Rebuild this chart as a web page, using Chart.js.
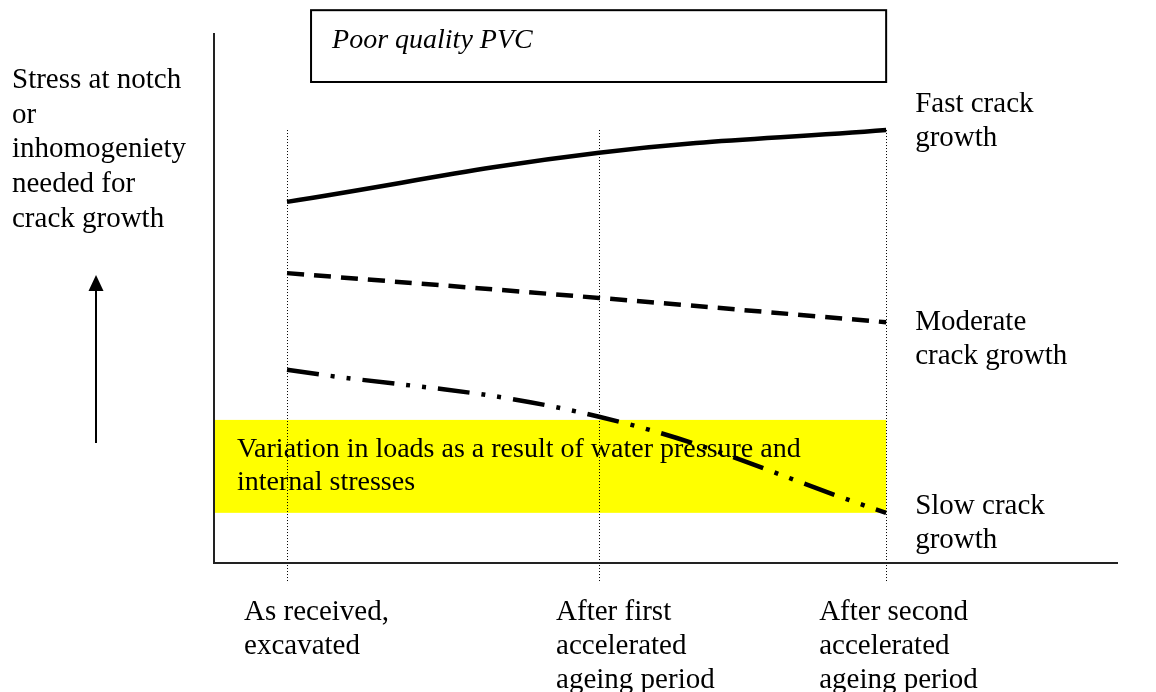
<!DOCTYPE html>
<html>
<head>
<meta charset="utf-8">
<script src="https://cdn.jsdelivr.net/npm/chart.js@4"></script>
<style>
    html, body { margin: 0; padding: 0; background: #fff; }
    #wrap { width: 1156px; height: 692px; }
</style>
</head>
<body>
<div id="wrap"><canvas id="myChart" width="1156" height="692"></canvas></div>
<script>
// stages along the x axis (uneven spacing)
const stageX = [0, 1, 1.92];
const stageLabels = [
    ["As received,", "excavated"],
    ["After first", "accelerated", "ageing period"],
    ["After second", "accelerated", "ageing period"]
];

// stress needed for crack growth (relative units, 0-100)
const fastCrack = [68.4, 77.7, 82.0];
const moderateCrack = [54.9, 50.2, 45.6];
const slowCrack = [36.6, 27.7, 9.5];

// band of loads from water pressure and internal stresses
const loadBand = [9.5, 27.1];

const seriesLabels = [
    ["Fast crack", "growth"],
    ["Moderate", "crack growth"],
    ["Slow crack", "growth"]
];
const yTitle = ["Stress at notch", "or", "inhomogeniety", "needed for", "crack growth"];
const bandText = ["Variation in loads as a result of water pressure and", "internal stresses"];
const boxTitle = "Poor quality PVC";

const FONT = "29px 'Liberation Serif', 'Times New Roman', serif";
const FONT_BAND = "28px 'Liberation Serif', 'Times New Roman', serif";
const FONT_I = "italic 28px 'Liberation Serif', 'Times New Roman', serif";

function toPoints(values)
{
    let pts = [];
    for (let i = 0; i < values.length; i++)
    {
        pts.push({x: stageX[i], y: values[i]});
    }
    return pts;
}

function drawLines(ctx, lines, x, y, step)
{
    for (let i = 0; i < lines.length; i++)
    {
        ctx.fillText(lines[i], x, y + i * step);
    }
}

const sketchPlugin = {
    id: "sketch",
    beforeDatasetsDraw: function (chart)
    {
        let ctx = chart.ctx;
        let xs = chart.scales.x;
        let ys = chart.scales.y;
        let area = chart.chartArea;
        ctx.save();

        // yellow load band
        let bTop = ys.getPixelForValue(loadBand[1]);
        let bBot = ys.getPixelForValue(loadBand[0]);
        let bRight = xs.getPixelForValue(stageX[2]);
        ctx.fillStyle = "#ffff00";
        ctx.fillRect(area.left + 1, bTop, bRight - area.left - 1, bBot - bTop);

        // dotted stage lines
        ctx.strokeStyle = "#000";
        ctx.lineWidth = 1;
        ctx.setLineDash([1, 2]);
        for (let i = 0; i < stageX.length; i++)
        {
            let px = Math.round(xs.getPixelForValue(stageX[i])) + 0.5;
            ctx.beginPath();
            ctx.moveTo(px, ys.getPixelForValue(82.0));
            ctx.lineTo(px, ys.getPixelForValue(-3.8));
            ctx.stroke();
        }
        ctx.setLineDash([]);

        // band text
        ctx.fillStyle = "#000";
        ctx.font = FONT_BAND;
        ctx.textBaseline = "alphabetic";
        ctx.textAlign = "left";
        drawLines(ctx, bandText, area.left + 23, bTop + 37, 33);

        ctx.restore();
    },
    afterDraw: function (chart)
    {
        let ctx = chart.ctx;
        let xs = chart.scales.x;
        let ys = chart.scales.y;
        let area = chart.chartArea;
        ctx.save();

        // axes
        ctx.strokeStyle = "#222";
        ctx.lineWidth = 2;
        ctx.beginPath();
        ctx.moveTo(area.left, area.top - 2);
        ctx.lineTo(area.left, area.bottom);
        ctx.lineTo(area.right, area.bottom);
        ctx.stroke();

        // title box
        let bx0 = xs.getPixelForValue(0.077);
        let bx1 = xs.getPixelForValue(stageX[2]);
        let by0 = ys.getPixelForValue(104.7);
        let by1 = ys.getPixelForValue(91.1);
        ctx.fillStyle = "#fff";
        ctx.fillRect(bx0, by0, bx1 - bx0, by1 - by0);
        ctx.lineWidth = 2;
        ctx.strokeStyle = "#000";
        ctx.strokeRect(bx0, by0, bx1 - bx0, by1 - by0);
        ctx.fillStyle = "#000";
        ctx.font = FONT_I;
        ctx.textBaseline = "alphabetic";
        ctx.textAlign = "left";
        ctx.fillText(boxTitle, bx0 + 21, by0 + 38);

        // y axis description and arrow
        ctx.font = FONT;
        drawLines(ctx, yTitle, 12, 88, 34.7);
        ctx.lineWidth = 2;
        ctx.beginPath();
        ctx.moveTo(96, 443);
        ctx.lineTo(96, 288);
        ctx.stroke();
        ctx.beginPath();
        ctx.moveTo(96, 275);
        ctx.lineTo(103.5, 291);
        ctx.lineTo(88.5, 291);
        ctx.closePath();
        ctx.fill();

        // series labels on the right
        let lx = xs.getPixelForValue(stageX[2]) + 29;
        let labelY = [112, 330, 514];
        for (let i = 0; i < seriesLabels.length; i++)
        {
            drawLines(ctx, seriesLabels[i], lx, labelY[i], 33.5);
        }

        // stage labels below the axis
        let offs = [-43, -43, -67];
        for (let i = 0; i < stageLabels.length; i++)
        {
            drawLines(ctx, stageLabels[i], xs.getPixelForValue(stageX[i]) + offs[i], 620, 34);
        }
        ctx.restore();
    }
};

let chart = new Chart(document.getElementById("myChart"), {
    type: "line",
    data: {
        datasets: [
            {
                label: "Fast crack growth",
                data: toPoints(fastCrack),
                borderColor: "#000",
                borderWidth: 4.5,
                tension: 0.4,
                pointRadius: 0
            },
            {
                label: "Moderate crack growth",
                data: toPoints(moderateCrack),
                borderColor: "#000",
                borderWidth: 4.5,
                borderDash: [17, 10],
                tension: 0.4,
                pointRadius: 0
            },
            {
                label: "Slow crack growth",
                data: toPoints(slowCrack),
                borderColor: "#000",
                borderWidth: 4.5,
                borderDash: [32, 12, 4, 12, 4, 12],
                tension: 0.4,
                pointRadius: 0
            }
        ]
    },
    options: {
        responsive: false,
        animation: false,
        layout: {padding: {left: 214, right: 38, top: 35, bottom: 129}},
        plugins: {legend: {display: false}, tooltip: {enabled: false}},
        scales: {
            x: {type: "linear", min: -0.234, max: 2.663, display: false},
            y: {min: 0, max: 100, display: false}
        }
    },
    plugins: [sketchPlugin]
});
</script>
</body>
</html>
